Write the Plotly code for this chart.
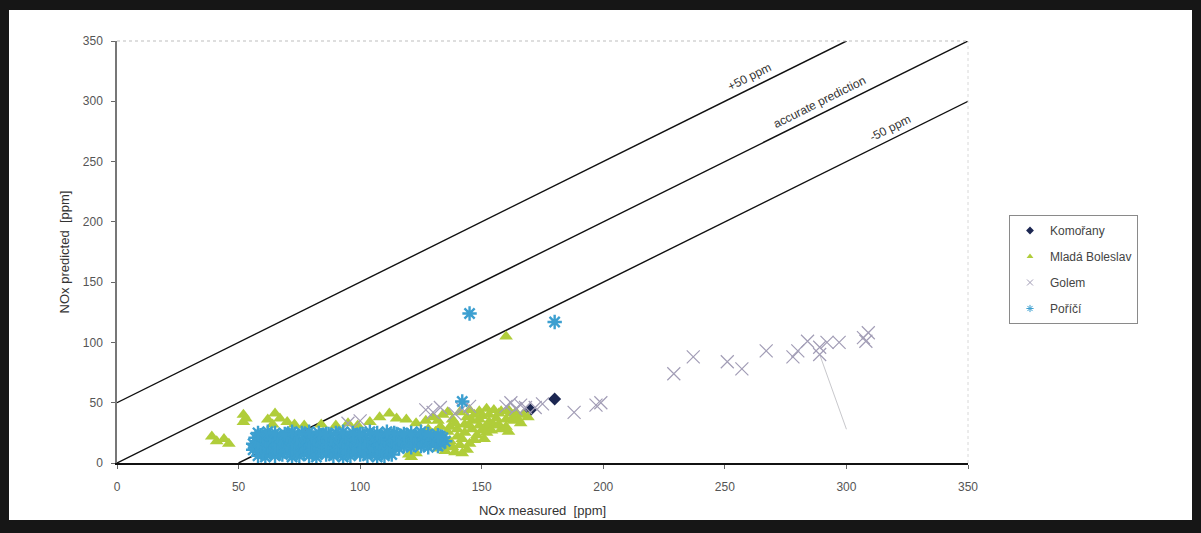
import plotly.graph_objects as go

# ---------------- data ----------------
komorany_x = [170, 180]
komorany_y = [44, 53]

mlada_x = [39, 41, 44, 46, 52, 52, 53, 62, 65, 67, 70, 64,
           73, 77, 84, 90, 95, 99, 104, 108, 112, 115, 119, 123, 127,
           130, 134, 138, 141, 145, 149, 152, 155, 158, 161, 164, 167, 169,
           137, 140, 143, 146, 149, 153, 156, 160, 163, 166,
           131, 134, 137, 140, 143, 146, 150, 152, 158, 161,
           129, 132, 135, 138, 141, 144, 147, 139,
           121, 123, 120, 152, 155, 150, 144,
           126, 128, 133, 136, 139, 142, 145, 148, 151, 154, 157, 160, 163, 165,
           135, 142, 130, 147, 157, 162, 153, 136, 132, 145, 149,
           160]
mlada_y = [22, 18, 20, 16, 40, 34, 37, 36, 41, 37, 34, 32,
           32, 31, 32, 31, 33, 31, 34, 38, 41, 37, 36, 33, 35,
           38, 40, 36, 42, 44, 43, 45, 44, 43, 44, 42, 40, 38,
           30, 28, 32, 35, 36, 34, 37, 36, 35, 33,
           26, 22, 18, 22, 25, 28, 27, 25, 28, 26,
           15, 12, 10, 13, 15, 11, 19, 9,
           5, 8, 7, 30, 31, 39, 38,
           22, 28, 30, 26, 33, 20, 16, 23, 20, 27, 32, 30, 38, 36,
           14, 8, 20, 40, 41, 41, 40, 42, 35, 31, 31,
           105]

golem_x = [95, 100, 127, 130, 133, 139, 142, 145, 160, 162, 164, 166, 168, 172,
           175, 188, 197, 199, 229, 237, 251, 257, 267, 278, 280, 284, 289, 292,
           297, 289, 307, 309, 308]
golem_y = [33, 35, 44, 42, 46, 41, 45, 47, 47, 50, 45, 48, 46, 46,
           49, 42, 48, 50, 74, 88, 84, 78, 93, 88, 93, 101, 96, 100,
           100, 90, 104, 108, 101]

# faint leader line near the Golem points
golem_line_x = [289, 300]
golem_line_y = [90, 28]

poric_x = [58, 61, 65, 68, 72, 75, 79, 82, 86, 89, 93, 96, 100, 103, 107, 110, 113,
           60, 63, 67, 70, 74, 77, 81, 84, 88, 91, 95, 98, 102, 105, 109, 112,
           56, 60, 63, 67, 70, 74, 77, 81, 84, 88, 91, 95, 98, 102, 105, 109, 112, 116,
           58, 62, 65, 69, 72, 76, 79, 83, 86, 90, 93, 97, 100, 104, 107, 111, 114, 118,
           121, 125, 128, 132,
           56, 59, 63, 66, 70, 73, 77, 80, 84, 87, 91, 94, 98, 101, 105, 108, 112, 115,
           119, 122, 126, 129, 133,
           58, 61, 65, 68, 72, 75, 79, 82, 86, 89, 93, 96, 100, 103, 107, 110, 114, 117,
           121, 124, 128, 131, 135,
           57, 60, 64, 67, 71, 74, 78, 81, 85, 88, 92, 95, 99, 102, 106, 109, 113, 116,
           120, 123, 127, 130, 134,
           59, 63, 66, 70, 73, 77, 80, 84, 87, 91, 94, 98, 101, 105, 108, 112, 115, 119,
           122, 126, 129, 133,
           58, 62, 65, 69, 72, 76, 79, 83, 86, 90, 93, 97, 100, 104, 107, 111, 114, 118,
           121, 125, 128, 132,
           142, 145, 180]
poric_y = [6, 5, 6, 7, 5, 6, 6, 5, 7, 6, 5, 6, 7, 6, 5, 6, 7,
           8, 9, 8, 9, 8, 9, 8, 9, 8, 9, 8, 9, 8, 9, 8, 9,
           11, 10, 12, 11, 10, 11, 12, 11, 10, 11, 12, 11, 10, 11, 12, 11, 10, 12,
           13, 14, 13, 14, 13, 14, 13, 14, 13, 14, 13, 14, 13, 14, 13, 14, 13, 14,
           13, 14, 13, 14,
           16, 15, 17, 16, 15, 16, 17, 16, 15, 17, 16, 15, 16, 17, 16, 15, 16, 17,
           16, 15, 16, 17, 16,
           18, 19, 18, 19, 18, 19, 18, 19, 18, 19, 18, 19, 18, 19, 18, 19, 18, 19,
           18, 19, 18, 19, 18,
           21, 22, 20, 21, 22, 21, 20, 21, 22, 21, 20, 21, 22, 21, 20, 22, 21, 20,
           21, 22, 21, 20, 21,
           23, 23, 22, 23, 24, 23, 22, 23, 24, 23, 22, 23, 24, 23, 22, 23, 24, 23,
           22, 23, 22, 22,
           25, 26, 25, 24, 26, 25, 26, 25, 24, 25, 26, 25, 24, 26, 25, 26, 25, 24,
           25, 26, 24, 23,
           51, 124, 117]

ref_offsets = [50, 0, -50]
ref_labels = ["+50 ppm", "accurate prediction", "-50 ppm"]
ref_label_x = [260, 289, 318]

axis_max = 350
tick_vals = [0, 50, 100, 150, 200, 250, 300, 350]
tick_text = ["0", "50", "100", "150", "200", "250", "300", "350"]

series_names = ["Komořany", "Mladá Boleslav", "Golem", "Poříčí"]
series_colors = ["#1c2752", "#b0cd3a", "#a29db6", "#3c9fd0"]

# ---------------- figure ----------------
fig = go.Figure()

# reference lines
for off in ref_offsets:
    x0 = max(0, -off)
    x1 = min(axis_max, axis_max - off)
    fig.add_trace(go.Scatter(x=[x0, x1], y=[x0 + off, x1 + off], mode="lines",
                             line=dict(color="#111111", width=1.4),
                             showlegend=False, hoverinfo="skip"))

fig.add_trace(go.Scatter(x=golem_line_x, y=golem_line_y, mode="lines",
                         line=dict(color="#c8c8cc", width=1),
                         showlegend=False, hoverinfo="skip"))

fig.add_trace(go.Scatter(x=komorany_x, y=komorany_y, mode="markers",
                         marker=dict(symbol="diamond", size=10, color=series_colors[0]),
                         showlegend=False))
fig.add_trace(go.Scatter(x=mlada_x, y=mlada_y, mode="markers",
                         marker=dict(symbol="triangle-up", size=12, color=series_colors[1]),
                         showlegend=False))
fig.add_trace(go.Scatter(x=golem_x, y=golem_y, mode="markers",
                         marker=dict(symbol="x-thin-open", size=13, color=series_colors[2],
                                     line=dict(color=series_colors[2], width=1.2)),
                         showlegend=False))
fig.add_trace(go.Scatter(x=poric_x, y=poric_y, mode="markers",
                         marker=dict(symbol="asterisk-open", size=12, color=series_colors[3],
                                     line=dict(color=series_colors[3], width=2.4)),
                         showlegend=False))

# legend-only entries (small symbols as in the reference)
legend_symbols = ["diamond", "triangle-up", "x-thin-open", "asterisk-open"]
for i, name in enumerate(series_names):
    sym = legend_symbols[i]
    if sym.endswith("open"):
        mk = dict(symbol=sym, size=6, color=series_colors[i],
                  line=dict(color=series_colors[i], width=1))
    else:
        mk = dict(symbol=sym, size=6, color=series_colors[i])
    fig.add_trace(go.Scatter(x=[None], y=[None], mode="markers", name=name,
                             marker=mk, legendgroup=name, showlegend=True))

# labels on reference lines
for off, lab, lx in zip(ref_offsets, ref_labels, ref_label_x):
    fig.add_annotation(x=lx, y=lx + off + 10, text=lab, showarrow=False,
                       textangle=-26.6, font=dict(family="Arial, Liberation Sans", size=12,
                                                  color="#333333"))

L, R, T, B = 117, 233, 41, 70
W, H = 1201, 533
pw, ph = W - L - R, H - T - B

def px_to_paper_x(px):
    return (px - L) / pw

def px_to_paper_y(py):
    return (H - B - py) / ph

shapes = [
    # white page inside the black scan border
    dict(type="rect", xref="paper", yref="paper", layer="below",
         x0=px_to_paper_x(9), x1=px_to_paper_x(1192),
         y0=px_to_paper_y(520), y1=px_to_paper_y(10),
         fillcolor="white", line=dict(width=0)),
    # dotted top and right plot border
    dict(type="line", xref="paper", yref="paper", x0=0, x1=1, y0=1, y1=1,
         line=dict(color="#bdbdbd", width=1, dash="dot")),
    dict(type="line", xref="paper", yref="paper", x0=1, x1=1, y0=0, y1=1,
         line=dict(color="#d8d8d8", width=1, dash="dot")),
]

font_main = "Arial, Liberation Sans, sans-serif"
fig.update_layout(
    width=W, height=H,
    margin=dict(l=L, r=R, t=T, b=B, pad=0),
    paper_bgcolor="#161616",
    plot_bgcolor="white",
    shapes=shapes,
    font=dict(family=font_main, size=12, color="#555555"),
    legend=dict(x=px_to_paper_x(1009), y=px_to_paper_y(215), xanchor="left", yanchor="top",
                bgcolor="white", bordercolor="#8a8a8a", borderwidth=1,
                font=dict(family=font_main, size=12, color="#444444"),
                tracegroupgap=7, itemwidth=30),
    xaxis=dict(range=[0, axis_max], tickvals=tick_vals, ticktext=tick_text,
               showgrid=False, zeroline=False, showline=True, linecolor="#111111",
               linewidth=2, ticks="outside", ticklen=4, tickcolor="#666666",
               ticklabelstandoff=8,
               tickfont=dict(family=font_main, size=12, color="#555555"),
               title=dict(text="NOx measured  [ppm]", standoff=12,
                          font=dict(family=font_main, size=13, color="#333333"))),
    yaxis=dict(range=[0, axis_max], tickvals=tick_vals, ticktext=tick_text,
               showgrid=False, zeroline=False, showline=True, linecolor="#777777",
               linewidth=1.5, ticks="outside", ticklen=4, tickcolor="#666666",
               ticklabelstandoff=6,
               tickfont=dict(family=font_main, size=12, color="#555555"),
               title=dict(text="NOx predicted  [ppm]", standoff=10,
                          font=dict(family=font_main, size=13, color="#333333"))),
)

fig.write_html("out.html")
